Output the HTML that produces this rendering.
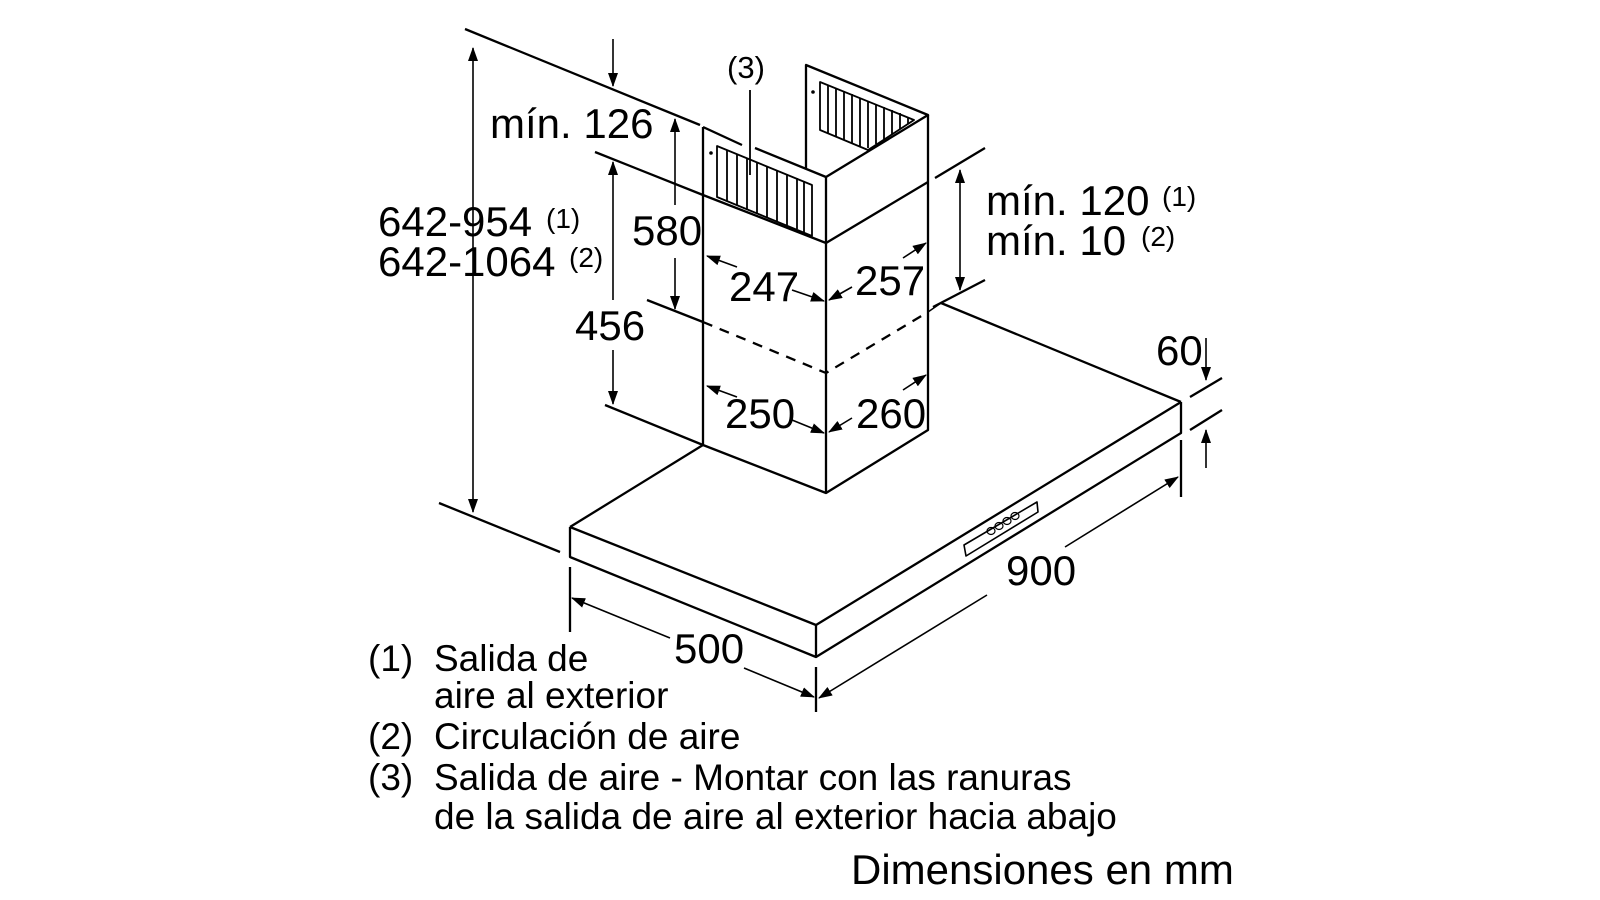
<!DOCTYPE html>
<html><head><meta charset="utf-8"><style>
html,body{margin:0;padding:0;background:#fff;width:1600px;height:900px;overflow:hidden}
svg{display:block}
text{font-family:"Liberation Sans",sans-serif;fill:#000}
</style></head><body>
<svg width="1600" height="900" viewBox="0 0 1600 900" xmlns="http://www.w3.org/2000/svg">
<defs>
<marker id="a" viewBox="0 0 14 10" refX="13" refY="5" markerWidth="14" markerHeight="10" markerUnits="userSpaceOnUse" orient="auto-start-reverse">
<path d="M0,0 L14,5 L0,10 Z" fill="#000"/>
</marker>
</defs>
<g stroke="#000" stroke-width="2.3" fill="none" stroke-linejoin="round">
<path d="M570,527 L816,625 L1181,402"/>
<path d="M570,527 L570,557 L816,657 L1181,433 L1181,402"/>
<path d="M816,625 L816,657"/>
<path d="M570,527 L703,445"/>
<path d="M941,303 L1181,402"/>
<path d="M928,312 L941,303" stroke-width="1.5"/>
<path d="M964,545 L1037,502 L1038,512 L966,556 Z" stroke-width="1.6"/>
<g stroke-width="1.2">
<ellipse cx="991" cy="531" rx="4" ry="3.5"/><ellipse cx="999" cy="526" rx="4" ry="3.5"/>
<ellipse cx="1007" cy="521" rx="4" ry="3.5"/><ellipse cx="1015" cy="516" rx="4" ry="3.5"/>
</g>
<path d="M703,195 L703,445 L826,493 L928,430 L928,182"/>
<path d="M826,243 L826,493"/>
<path d="M703,195 L826,243 L928,182"/>
<path d="M703,127 L703,195"/>
<path d="M826,177 L826,243"/>
<path d="M928,115 L928,182"/>
<path d="M703,127 L742,145 M755,148 L826,177 L928,115 L806,65 L806,168"/>
<g stroke-width="1.8">
<path d="M717,146 L812,185 L812,236 L717,197 Z"/>
<path d="M727,150 V201 M737,154 V205 M747,158 V209 M757,162 V213 M767,166 V217 M777,170 V221 M787,174 V225 M797,178 V229 M804,181 V232"/>
<path d="M820,82 L914,120 L868,150 L820,130 Z"/>
<path d="M828,85 V133 M836,88 V137 M844,91 V140 M852,94 V143 M860,98 V147 M868,101 V148 M876,104 V144 M884,107 V139 M892,110 V134 M900,113 V129 M908,117 V124"/>
</g>
<circle cx="711" cy="153" r="1.8" fill="#000" stroke="none"/>
<circle cx="813" cy="92" r="1.8" fill="#000" stroke="none"/>
<path d="M750,90 L750,175" stroke-width="1.8"/>
<path d="M647,300 L703,322" />
<path d="M703,322 L826,373 L928,312" stroke-dasharray="10,8"/>
<path d="M465,29 L700,125"/>
<path d="M595,152 L703,195"/>
<path d="M605,405 L703,445"/>
<path d="M439,503 L560,552"/>
<path d="M570,567 L570,632"/>
<path d="M816,667 L816,712"/>
<path d="M1181,440 L1181,497"/>
<path d="M935,178 L985,148"/>
<path d="M933,307 L985,280"/>
<path d="M1190,397 L1222,378"/>
<path d="M1190,430 L1222,410"/>
</g>
<g stroke="#000" stroke-width="1.6" fill="none">
<path d="M473,48 L473,512" marker-start="url(#a)" marker-end="url(#a)"/>
<path d="M613,39 L613,86" marker-end="url(#a)"/>
<path d="M675,205 L675,119" marker-end="url(#a)"/>
<path d="M675,258 L675,309" marker-end="url(#a)"/>
<path d="M613,300 L613,162" marker-end="url(#a)"/>
<path d="M613,350 L613,404" marker-end="url(#a)"/>
<path d="M960,170 L960,290" marker-start="url(#a)" marker-end="url(#a)"/>
<path d="M1206,338 L1206,380" marker-end="url(#a)"/>
<path d="M1206,468 L1206,430" marker-end="url(#a)"/>
<path d="M737,267 L707,256" marker-end="url(#a)"/>
<path d="M792,290 L824,301" marker-end="url(#a)"/>
<path d="M852,287 L829,300" marker-end="url(#a)"/>
<path d="M903,258 L926,243" marker-end="url(#a)"/>
<path d="M737,397 L707,386" marker-end="url(#a)"/>
<path d="M792,420 L824,433" marker-end="url(#a)"/>
<path d="M852,418 L829,432" marker-end="url(#a)"/>
<path d="M903,390 L926,375" marker-end="url(#a)"/>
<path d="M670,638 L572,598" marker-end="url(#a)"/>
<path d="M744,668 L814,697" marker-end="url(#a)"/>
<path d="M1065,547 L1178,477" marker-end="url(#a)"/>
<path d="M987,595 L819,698" marker-end="url(#a)"/>
</g>
<g font-size="42">
<text x="490" y="138">mín. 126</text>
<text x="378" y="236">642-954</text>
<text x="378" y="276">642-1064</text>
<text x="632" y="245">580</text>
<text x="575" y="340">456</text>
<text x="729" y="301">247</text>
<text x="855" y="295">257</text>
<text x="725" y="428">250</text>
<text x="856" y="428">260</text>
<text x="986" y="215">mín. 120</text>
<text x="986" y="255">mín. 10</text>
<text x="674" y="663">500</text>
<text x="1006" y="585">900</text>
<text x="1156" y="365">60</text>
</g>
<g font-size="28">
<text x="546" y="228">(1)</text>
<text x="569" y="267">(2)</text>
<text x="1162" y="206">(1)</text>
<text x="1141" y="246">(2)</text>
</g>
<text x="727" y="78" font-size="31">(3)</text>
<g font-size="37">
<text x="368" y="671">(1)</text><text x="434" y="671">Salida de</text>
<text x="434" y="708">aire al exterior</text>
<text x="368" y="749">(2)</text><text x="434" y="749">Circulación de aire</text>
<text x="368" y="790">(3)</text><text x="434" y="790">Salida de aire - Montar con las ranuras</text>
<text x="434" y="829">de la salida de aire al exterior hacia abajo</text>
</g>
<text x="851" y="884" font-size="42">Dimensiones en mm</text>
</svg>
</body></html>
